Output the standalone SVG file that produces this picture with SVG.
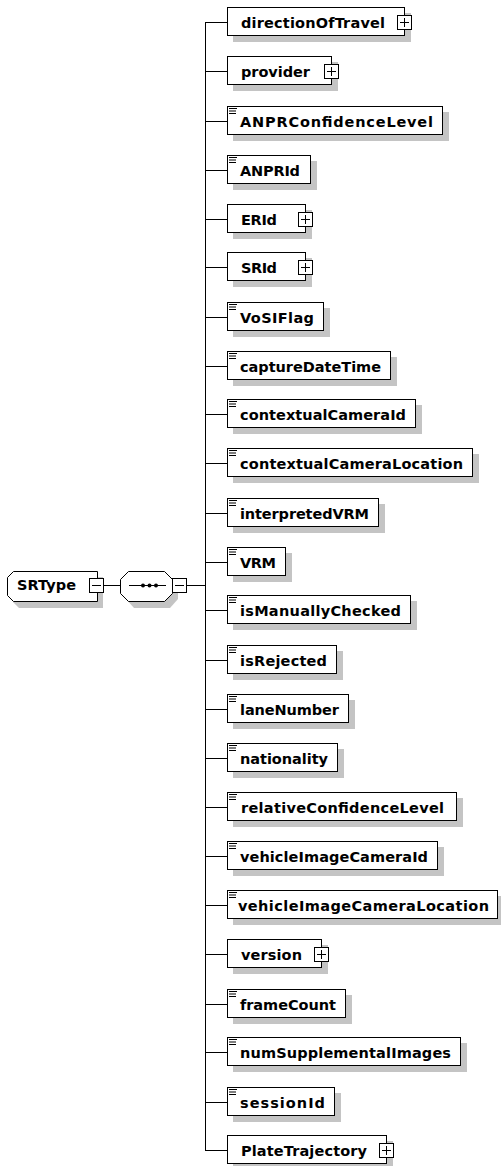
<svg xmlns="http://www.w3.org/2000/svg" xmlns:xlink="http://www.w3.org/1999/xlink" width="501" height="1166" viewBox="0 0 501 1166">
  <style>
    .box{fill:#fff;stroke:#000;stroke-width:1}
    .shadow{fill:#c4c4c4}
    .lbl{font-family:"DejaVu Sans","Liberation Sans",sans-serif;font-weight:bold;font-size:14.5px;fill:#000}
    .conn{fill:none;stroke:#000;stroke-width:1}
    .mark{fill:none;stroke:#000;stroke-width:1}
  </style>
  <defs>
    <!-- expand button (collapsed children) -->
    <g id="plus">
      <rect class="box" x="0.5" y="-6.5" width="14" height="14"/>
      <path class="mark" d="M3 0.5H12M7.5 -4V5"/>
    </g>
    <!-- simple-content element icon -->
    <g id="leaf">
      <rect x="229" y="-13" width="8" height="1" fill="#000"/>
      <rect x="229" y="-10.5" width="7" height="1" fill="#000"/>
      <rect x="229" y="-8" width="7" height="1" fill="#000"/>
    </g>
  </defs>

  <!-- connectors -->
  <g id="connectors" class="conn">
    <path d="M104 585.5H120.5"/>
    <path d="M187 585.5H205.5"/>
    <path d="M205.5 22.5V1150.5"/>
    <path d="M205 22.5H227M205 71.5H227M205 121.5H227M205 170.5H227M205 219.5H227M205 267.5H227M205 317.5H227M205 366.5H227M205 414.5H227M205 463.5H227M205 513.5H227M205 562.5H227M205 610.5H227M205 660.5H227M205 709.5H227M205 758.5H227M205 807.5H227M205 856.5H227M205 905.5H227M205 954.5H227M205 1004.5H227M205 1052.5H227M205 1102.5H227M205 1150.5H227"/>
  </g>

  <!-- complex type -->
  <g id="SRType">
    <polygon class="shadow" points="19,577 103,577 103,608 19,608 13,602 13,583"/>
    <polygon class="box" points="13.5,571.5 97.5,571.5 97.5,601.5 13.5,601.5 7.5,595.5 7.5,577.5"/>
    <text class="lbl" x="17" y="590" textLength="59">SRType</text>
    <rect class="box" x="89.5" y="578.5" width="14" height="14"/>
    <path class="mark" d="M92 585.5H101"/>
  </g>

  <!-- sequence compositor -->
  <g id="sequence">
    <polygon class="shadow" points="134,577 170,577 178,585 178,599 170,608 134,608 126,599 126,585"/>
    <polygon class="box" points="128.5,571.5 164.5,571.5 172.5,579.5 172.5,593.5 164.5,601.5 128.5,601.5 120.5,593.5 120.5,579.5"/>
    <path class="mark" d="M129 585.5H166"/>
    <circle cx="143" cy="585.5" r="2"/>
    <circle cx="149.5" cy="585.5" r="2"/>
    <circle cx="156" cy="585.5" r="2"/>
    <rect class="box" x="172.5" y="578.5" width="14" height="14"/>
    <path class="mark" d="M175 585.5H184"/>
  </g>

  <!-- child elements -->
  <g id="directionOfTravel" transform="translate(0,22)">
    <rect class="shadow" x="233" y="-9" width="178" height="29"/>
    <rect class="box" x="227.5" y="-14.5" width="177" height="28"/>
    <text class="lbl" x="241" y="6" textLength="144">directionOfTravel</text>
    <use xlink:href="#plus" x="397"/>
  </g>
  <g id="provider" transform="translate(0,71)">
    <rect class="shadow" x="233" y="-9" width="105" height="29"/>
    <rect class="box" x="227.5" y="-14.5" width="104" height="28"/>
    <text class="lbl" x="241" y="6" textLength="69">provider</text>
    <use xlink:href="#plus" x="324"/>
  </g>
  <g id="ANPRConfidenceLevel" transform="translate(0,121)">
    <rect class="shadow" x="233" y="-9" width="216" height="29"/>
    <rect class="box" x="227.5" y="-14.5" width="215" height="28"/>
    <use xlink:href="#leaf"/>
    <text class="lbl" x="240" y="6" textLength="193">ANPRConfidenceLevel</text>
  </g>
  <g id="ANPRId" transform="translate(0,170)">
    <rect class="shadow" x="233" y="-9" width="84" height="29"/>
    <rect class="box" x="227.5" y="-14.5" width="83" height="28"/>
    <use xlink:href="#leaf"/>
    <text class="lbl" x="240" y="6" textLength="60">ANPRId</text>
  </g>
  <g id="ERId" transform="translate(0,219)">
    <rect class="shadow" x="233" y="-9" width="79" height="29"/>
    <rect class="box" x="227.5" y="-14.5" width="78" height="28"/>
    <text class="lbl" x="241" y="6" textLength="36">ERId</text>
    <use xlink:href="#plus" x="298"/>
  </g>
  <g id="SRId" transform="translate(0,267)">
    <rect class="shadow" x="233" y="-9" width="79" height="29"/>
    <rect class="box" x="227.5" y="-14.5" width="78" height="28"/>
    <text class="lbl" x="241" y="6" textLength="36">SRId</text>
    <use xlink:href="#plus" x="298"/>
  </g>
  <g id="VoSIFlag" transform="translate(0,317)">
    <rect class="shadow" x="233" y="-9" width="97" height="29"/>
    <rect class="box" x="227.5" y="-14.5" width="96" height="28"/>
    <use xlink:href="#leaf"/>
    <text class="lbl" x="240" y="6" textLength="74">VoSIFlag</text>
  </g>
  <g id="captureDateTime" transform="translate(0,366)">
    <rect class="shadow" x="233" y="-9" width="164" height="29"/>
    <rect class="box" x="227.5" y="-14.5" width="163" height="28"/>
    <use xlink:href="#leaf"/>
    <text class="lbl" x="240" y="6" textLength="141">captureDateTime</text>
  </g>
  <g id="contextualCameraId" transform="translate(0,414)">
    <rect class="shadow" x="233" y="-9" width="189" height="29"/>
    <rect class="box" x="227.5" y="-14.5" width="188" height="28"/>
    <use xlink:href="#leaf"/>
    <text class="lbl" x="240" y="6" textLength="166">contextualCameraId</text>
  </g>
  <g id="contextualCameraLocation" transform="translate(0,463)">
    <rect class="shadow" x="233" y="-9" width="246" height="29"/>
    <rect class="box" x="227.5" y="-14.5" width="245" height="28"/>
    <use xlink:href="#leaf"/>
    <text class="lbl" x="240" y="6" textLength="223">contextualCameraLocation</text>
  </g>
  <g id="interpretedVRM" transform="translate(0,513)">
    <rect class="shadow" x="233" y="-9" width="152" height="29"/>
    <rect class="box" x="227.5" y="-14.5" width="151" height="28"/>
    <use xlink:href="#leaf"/>
    <text class="lbl" x="240" y="6" textLength="129">interpretedVRM</text>
  </g>
  <g id="VRM" transform="translate(0,562)">
    <rect class="shadow" x="233" y="-9" width="59" height="29"/>
    <rect class="box" x="227.5" y="-14.5" width="58" height="28"/>
    <use xlink:href="#leaf"/>
    <text class="lbl" x="240" y="6" textLength="36">VRM</text>
  </g>
  <g id="isManuallyChecked" transform="translate(0,610)">
    <rect class="shadow" x="233" y="-9" width="184" height="29"/>
    <rect class="box" x="227.5" y="-14.5" width="183" height="28"/>
    <use xlink:href="#leaf"/>
    <text class="lbl" x="240" y="6" textLength="161">isManuallyChecked</text>
  </g>
  <g id="isRejected" transform="translate(0,660)">
    <rect class="shadow" x="233" y="-9" width="110" height="29"/>
    <rect class="box" x="227.5" y="-14.5" width="109" height="28"/>
    <use xlink:href="#leaf"/>
    <text class="lbl" x="240" y="6" textLength="87">isRejected</text>
  </g>
  <g id="laneNumber" transform="translate(0,709)">
    <rect class="shadow" x="233" y="-9" width="122" height="29"/>
    <rect class="box" x="227.5" y="-14.5" width="121" height="28"/>
    <use xlink:href="#leaf"/>
    <text class="lbl" x="240" y="6" textLength="99">laneNumber</text>
  </g>
  <g id="nationality" transform="translate(0,758)">
    <rect class="shadow" x="233" y="-9" width="111" height="29"/>
    <rect class="box" x="227.5" y="-14.5" width="110" height="28"/>
    <use xlink:href="#leaf"/>
    <text class="lbl" x="240" y="6" textLength="88">nationality</text>
  </g>
  <g id="relativeConfidenceLevel" transform="translate(0,807)">
    <rect class="shadow" x="233" y="-9" width="230" height="29"/>
    <rect class="box" x="227.5" y="-14.5" width="229" height="28"/>
    <use xlink:href="#leaf"/>
    <text class="lbl" x="241" y="6" textLength="203">relativeConfidenceLevel</text>
  </g>
  <g id="vehicleImageCameraId" transform="translate(0,856)">
    <rect class="shadow" x="233" y="-9" width="211" height="29"/>
    <rect class="box" x="227.5" y="-14.5" width="210" height="28"/>
    <use xlink:href="#leaf"/>
    <text class="lbl" x="240" y="6" textLength="188">vehicleImageCameraId</text>
  </g>
  <g id="vehicleImageCameraLocation" transform="translate(0,905)">
    <rect class="shadow" x="233" y="-9" width="271" height="29"/>
    <rect class="box" x="227.5" y="-14.5" width="270" height="28"/>
    <use xlink:href="#leaf"/>
    <text class="lbl" x="238" y="6" textLength="251">vehicleImageCameraLocation</text>
  </g>
  <g id="version" transform="translate(0,954)">
    <rect class="shadow" x="233" y="-9" width="95" height="29"/>
    <rect class="box" x="227.5" y="-14.5" width="94" height="28"/>
    <text class="lbl" x="241" y="6" textLength="61">version</text>
    <use xlink:href="#plus" x="314"/>
  </g>
  <g id="frameCount" transform="translate(0,1004)">
    <rect class="shadow" x="233" y="-9" width="119" height="29"/>
    <rect class="box" x="227.5" y="-14.5" width="118" height="28"/>
    <use xlink:href="#leaf"/>
    <text class="lbl" x="240" y="6" textLength="96">frameCount</text>
  </g>
  <g id="numSupplementalImages" transform="translate(0,1052)">
    <rect class="shadow" x="233" y="-9" width="234" height="29"/>
    <rect class="box" x="227.5" y="-14.5" width="233" height="28"/>
    <use xlink:href="#leaf"/>
    <text class="lbl" x="240" y="6" textLength="211">numSupplementalImages</text>
  </g>
  <g id="sessionId" transform="translate(0,1102)">
    <rect class="shadow" x="233" y="-9" width="108" height="29"/>
    <rect class="box" x="227.5" y="-14.5" width="107" height="28"/>
    <use xlink:href="#leaf"/>
    <text class="lbl" x="240" y="6" textLength="85">sessionId</text>
  </g>
  <g id="PlateTrajectory" transform="translate(0,1150)">
    <rect class="shadow" x="233" y="-9" width="160" height="29"/>
    <rect class="box" x="227.5" y="-14.5" width="159" height="28"/>
    <text class="lbl" x="241" y="6" textLength="126">PlateTrajectory</text>
    <use xlink:href="#plus" x="379"/>
  </g>
</svg>
